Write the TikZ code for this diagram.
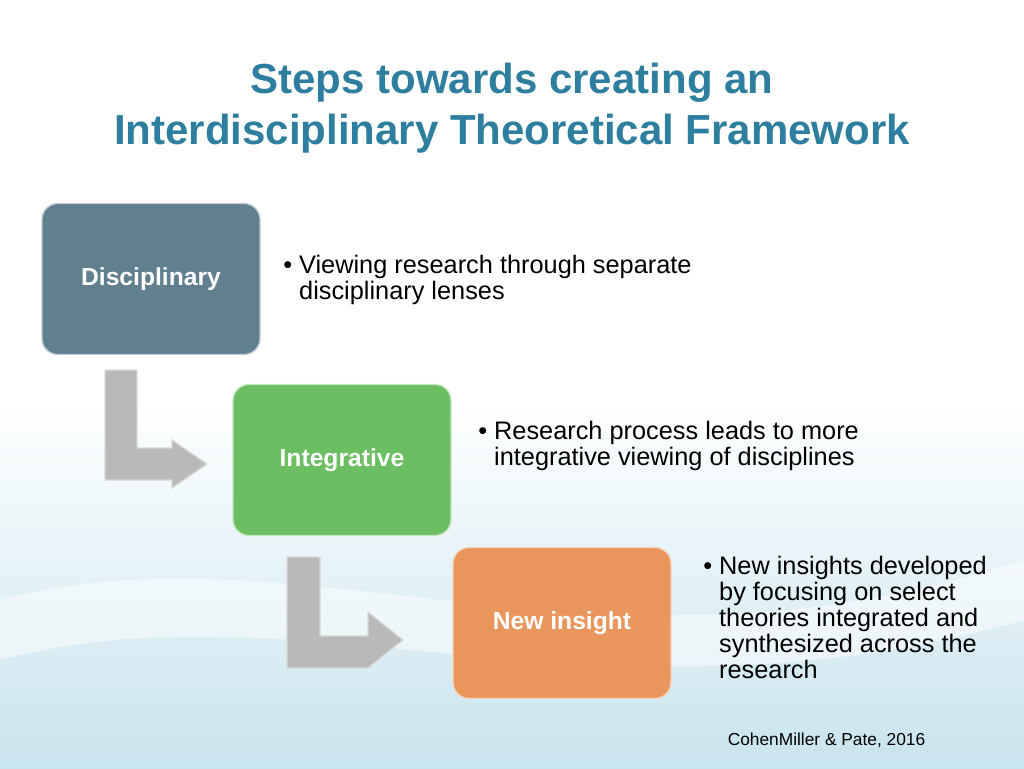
\documentclass[tikz,border=0pt]{standalone}
\usepackage{fontspec}
\setmainfont{Liberation Sans}
\definecolor{cd}{RGB}{96,127,143}
\definecolor{ci}{RGB}{107,190,98}
\definecolor{cn}{RGB}{233,150,92}
\definecolor{ct}{RGB}{46,126,160}
\definecolor{cbg}{RGB}{200,228,238}
\begin{document}
\begin{tikzpicture}[x=0.75pt,y=-0.75pt,
  stepbox/.style={rounded corners=12pt,minimum width=218*0.75pt,minimum height=151*0.75pt,draw=white!60!#1,line width=1pt,fill=#1,text=white,font=\bfseries\fontsize{18.5}{22}\selectfont,inner sep=0pt},
  bullet/.style={anchor=north west,align=left,font=\fontsize{19}{19.5}\selectfont,text=black,inner sep=0pt},
  bentarrow/.style={fill=gray!55,draw=gray!30,line width=1pt}]
\useasboundingbox (0,0) rectangle (1024,768);
\fill[white] (0,0) rectangle (1024,400);
\shade[top color=white,bottom color=cbg] (0,400) rectangle (1024,768);
\fill[white,opacity=0.5] (0,600) .. controls (300,520) and (600,700) .. (1024,560) -- (1024,620) .. controls (600,740) and (300,580) .. (0,660) -- cycle;
\node[font=\bfseries\fontsize{31.5}{38}\selectfont,text=ct,align=center] (title) at (512,108) {Steps towards creating an\\Interdisciplinary Theoretical Framework};
\node[stepbox=cd] (d) at (151,279) {Disciplinary};
\node[stepbox=ci] (i) at (342,460) {Integrative};
\node[stepbox=cn] (n) at (562,623) {New insight};
\node[bullet] (b1) at (283,255) {• Viewing research through separate\\\hphantom{• }disciplinary lenses};
\node[bullet] (b2) at (478,421) {• Research process leads to more\\\hphantom{• }integrative viewing of disciplines};
\node[bullet] (b3) at (703,556) {• New insights developed\\\hphantom{• }by focusing on select\\\hphantom{• }theories integrated and\\\hphantom{• }synthesized across the\\\hphantom{• }research};
\node[font=\fontsize{13}{15}\selectfont,anchor=east] (cite) at (930,740) {CohenMiller \& Pate, 2016};
\draw[bentarrow] (105,370) -- (137,370) -- (137,448) -- (172,448) -- (172,440) -- (207,464) -- (172,488) -- (172,480) -- (105,480) -- cycle;
\draw[bentarrow] (287,557) -- (320,557) -- (320,636) -- (368,636) -- (368,612) -- (403,640) -- (368,668) -- (287,668) -- cycle;
\end{tikzpicture}
\end{document}
